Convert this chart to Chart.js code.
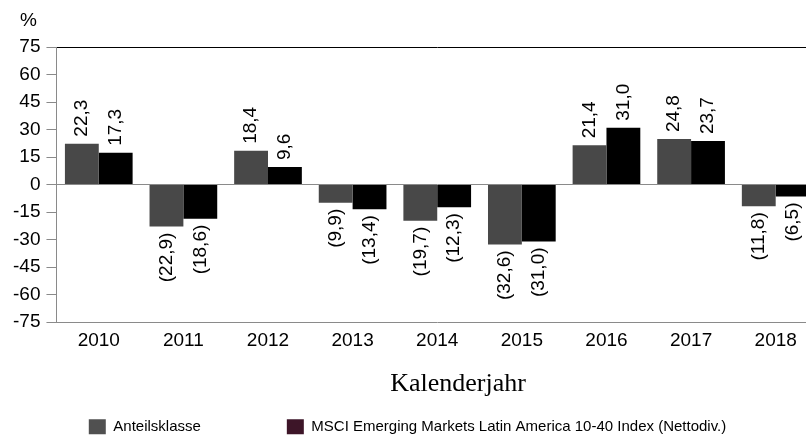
<!DOCTYPE html>
<html>
<head>
<meta charset="utf-8">
<script src="https://cdn.jsdelivr.net/npm/chart.js@4"></script>
<style>
  html, body { margin: 0; padding: 0; background: #fff; overflow: hidden; }
</style>
</head>
<body>
<canvas id="myChart" width="818" height="446"></canvas>
<script>
// data
const years = ['2010', '2011', '2012', '2013', '2014', '2015', '2016', '2017', '2018'];
const anteilsklasse = [22.3, -22.9, 18.4, -9.9, -19.7, -32.6, 21.4, 24.8, -11.8];
const msciIndex = [17.3, -18.6, 9.6, -13.4, -12.3, -31.0, 31.0, 23.7, -6.5];
const seriesNames = ['Anteilsklasse', 'MSCI Emerging Markets Latin America 10-40 Index (Nettodiv.)'];
const yTicks = [-75, -60, -45, -30, -15, 0, 15, 30, 45, 60, 75];

const barColors = ['#484848', '#000000'];
const legendColors = ['#505050', '#3d1528'];
const sans = '"Liberation Sans", Arial, sans-serif';

// 22.3 -> "22,3", negatives in brackets
function fmt(v) {
    let s = Math.abs(v).toFixed(1).replace('.', ',');
    return v < 0 ? '(' + s + ')' : s;
}

// rotated value labels above / below the bars
const valueLabels = {
    id: 'valueLabels',
    afterDatasetsDraw(chart) {
        const ctx = chart.ctx;
        ctx.save();
        ctx.font = '19px ' + sans;
        ctx.fillStyle = '#000';
        ctx.textBaseline = 'middle';
        chart.data.datasets.forEach((ds, i) => {
            chart.getDatasetMeta(i).data.forEach((bar, j) => {
                const v = ds.data[j];
                ctx.save();
                ctx.translate(bar.x, v < 0 ? bar.y + 6 : bar.y - 7);
                ctx.rotate(-Math.PI / 2);
                ctx.textAlign = v < 0 ? 'right' : 'left';
                ctx.fillText(fmt(v), 0, 0);
                ctx.restore();
            });
        });
        ctx.restore();
    }
};

// "%" over the y axis and the x axis caption
const extraText = {
    id: 'extraText',
    afterDraw(chart) {
        const ctx = chart.ctx;
        ctx.save();
        ctx.fillStyle = '#000';
        ctx.textBaseline = 'middle';
        ctx.textAlign = 'left';
        ctx.font = '19px ' + sans;
        ctx.fillText('%', 20, 21);
        ctx.textAlign = 'center';
        ctx.font = '26px "Liberation Serif", "Times New Roman", serif';
        ctx.fillText('Kalenderjahr', 458, 384);
        ctx.restore();
    }
};

// legend items sit far apart, so pull the legend box up under the axis
const legendShift = {
    id: 'legendShift',
    afterLayout(chart) {
        const lg = chart.legend;
        lg.top = chart.scales.x.top + 11;
        lg.bottom = chart.height;
        lg.height = lg.bottom - lg.top;
        lg.left -= 5;
        lg.right -= 5;
    }
};

const ctx = document.getElementById('myChart').getContext('2d');

new Chart(ctx, {
    type: 'bar',
    data: {
        labels: years,
        datasets: [{
            label: seriesNames[0],
            data: anteilsklasse,
            backgroundColor: barColors[0],
            categoryPercentage: 0.8,
            barPercentage: 1.0
        },
        {
            label: seriesNames[1],
            data: msciIndex,
            backgroundColor: barColors[1],
            categoryPercentage: 0.8,
            barPercentage: 1.0
        }]
    },
    options: {
        responsive: false,
        animation: false,
        layout: {
            padding: { left: 7, top: 47, right: 0, bottom: 0 }
        },
        scales: {
            y: {
                min: -75,
                max: 75,
                afterBuildTicks: (scale) => {
                    scale.ticks = yTicks.map(v => ({ value: v }));
                },
                ticks: {
                    color: '#000',
                    padding: 6,
                    autoSkip: false,
                    font: { family: sans, size: 19 }
                },
                grid: {
                    drawOnChartArea: true,
                    color: (c) => c.tick.value === 75 ? '#000' : (c.tick.value === 0 ? '#8a8a8a' : 'rgba(0,0,0,0)'),
                    tickColor: '#8a8a8a',
                    tickLength: 10
                },
                border: { color: '#8a8a8a' }
            },
            x: {
                grid: { display: false, drawTicks: false, tickLength: 0 },
                border: { color: '#8a8a8a' },
                ticks: {
                    color: '#000',
                    padding: 7,
                    maxRotation: 0,
                    font: { family: sans, size: 19 }
                }
            }
        },
        plugins: {
            tooltip: { enabled: false },
            legend: {
                position: 'bottom',
                maxHeight: 87,
                labels: {
                    boxWidth: 17,
                    boxHeight: 15,
                    padding: 86,
                    color: '#000',
                    font: { family: sans, size: 15 },
                    generateLabels: (chart) => {
                        const items = Chart.defaults.plugins.legend.labels.generateLabels(chart);
                        items.forEach((it, i) => {
                            it.fillStyle = legendColors[i];
                            it.strokeStyle = legendColors[i];
                            it.lineWidth = 0;
                        });
                        return items;
                    }
                }
            }
        }
    },
    plugins: [valueLabels, extraText, legendShift]
});
</script>
</body>
</html>
